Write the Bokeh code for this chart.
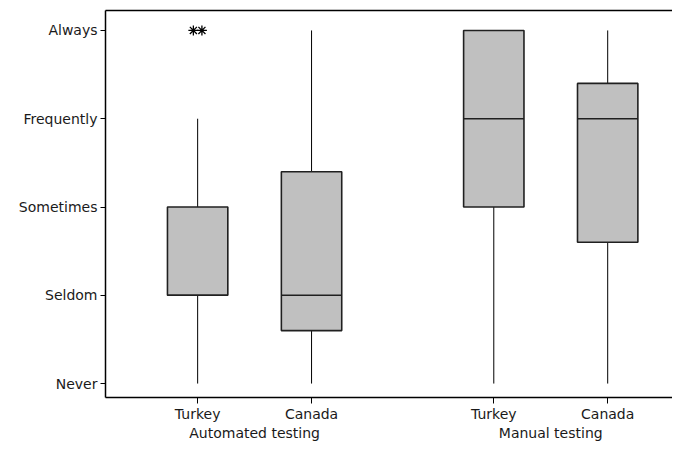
from bokeh.plotting import figure
from bokeh.models import LinearAxis, FixedTicker, Range1d, ColumnDataSource
from bokeh.embed import file_html
from bokeh.resources import INLINE

# ---- data ----
groups = ["Automated testing", "Automated testing", "Manual testing", "Manual testing"]
countries = ["Turkey", "Canada", "Turkey", "Canada"]
whisker_low = [1, 1, 1, 1]
q1 = [2, 1.6, 3, 2.6]
median = [2, 2, 4, 4]
q3 = [3, 3.4, 5, 4.4]
whisker_high = [4, 5, 5, 5]
outliers = [[5, 5], [], [], []]
y_levels = [1, 2, 3, 4, 5]
y_labels = ["Never", "Seldom", "Sometimes", "Frequently", "Always"]

# ---- layout helpers ----
GROUP_GAP = 0.6
BOX_W = 0.53
group_names = list(dict.fromkeys(groups))
xs = [i + group_names.index(g) * GROUP_GAP for i, g in enumerate(groups)]
group_centers = [sum(x for x, g in zip(xs, groups) if g == gn) / groups.count(gn) for gn in group_names]

FONT = "DejaVu Sans"
FS = "14px"

p = figure(width=672, height=443, output_backend="svg", toolbar_location=None,
           x_range=Range1d(xs[0] - 0.809, xs[-1] + 0.569),
           y_range=Range1d(0.842, 5.226),
           x_axis_location=None, y_axis_location=None,
           min_border_left=105, min_border_right=0, min_border_top=10, min_border_bottom=0)
p.outline_line_color = None
p.grid.visible = False
p.background_fill_color = "white"

src = ColumnDataSource(dict(x=xs, low=whisker_low, q1=q1, med=median, q3=q3, high=whisker_high))
# whiskers
p.segment(x0="x", y0="low", x1="x", y1="q1", source=src, line_color="black", line_width=1)
p.segment(x0="x", y0="q3", x1="x", y1="high", source=src, line_color="black", line_width=1)
# boxes
p.vbar(x="x", width=BOX_W, bottom="q1", top="q3", source=src, fill_color="#c0c0c0",
       line_color="#202020", line_width=1.6)
# medians
src_med = ColumnDataSource(dict(x0=[x - BOX_W / 2 for x in xs], x1=[x + BOX_W / 2 for x in xs], y=median))
p.segment(x0="x0", y0="y", x1="x1", y1="y", source=src_med, line_color="#202020", line_width=1.6)

# outliers (identical values spread side by side)
ox, oy = [], []
for x, outs in zip(xs, outliers):
    n = len(outs)
    for k, v in enumerate(outs):
        ox.append(x + (k - (n - 1) / 2) * 0.075)
        oy.append(v)
p.scatter(ox, oy, marker="asterisk", size=10, line_color="black", line_width=1.3)

# left axis
yax = LinearAxis(ticker=FixedTicker(ticks=y_levels),
                 major_label_overrides={v: l for v, l in zip(y_levels, y_labels)})
yax.major_tick_out = 5
yax.major_tick_in = 0
yax.minor_tick_out = 0
yax.minor_tick_in = 0
yax.axis_line_color = "black"
yax.axis_line_width = 1.5
yax.major_label_standoff = 3
yax.major_label_text_font = FONT
yax.major_label_text_font_size = FS
yax.major_label_text_color = "#1a1a1a"
p.add_layout(yax, "left")

# bottom axis with country labels
xax = LinearAxis(ticker=FixedTicker(ticks=xs),
                 major_label_overrides={x: c for x, c in zip(xs, countries)})
xax.major_tick_out = 6
xax.major_tick_in = 0
xax.minor_tick_out = 0
xax.minor_tick_in = 0
xax.axis_line_color = "black"
xax.axis_line_width = 1.5
xax.major_label_standoff = 2
xax.major_label_text_font = FONT
xax.major_label_text_font_size = FS
xax.major_label_text_color = "#1a1a1a"
p.add_layout(xax, "below")

# second bottom axis with group labels
gax = LinearAxis(ticker=FixedTicker(ticks=group_centers),
                 major_label_overrides={x: g for x, g in zip(group_centers, group_names)})
gax.axis_line_color = None
gax.major_tick_line_color = None
gax.minor_tick_line_color = None
gax.major_tick_out = 0
gax.major_tick_in = 0
gax.minor_tick_out = 0
gax.minor_tick_in = 0
gax.major_label_standoff = 0
gax.major_label_text_font = FONT
gax.major_label_text_font_size = FS
gax.major_label_text_color = "#1a1a1a"
p.add_layout(gax, "below")

# top frame line
tax = LinearAxis(ticker=FixedTicker(ticks=[]))
tax.axis_line_color = "black"
tax.axis_line_width = 1.5
tax.major_tick_out = 0
tax.major_tick_in = 0
tax.minor_tick_out = 0
tax.minor_tick_in = 0
tax.major_label_standoff = 0
p.add_layout(tax, "above")

open("out.html", "w").write(file_html(p, INLINE))
